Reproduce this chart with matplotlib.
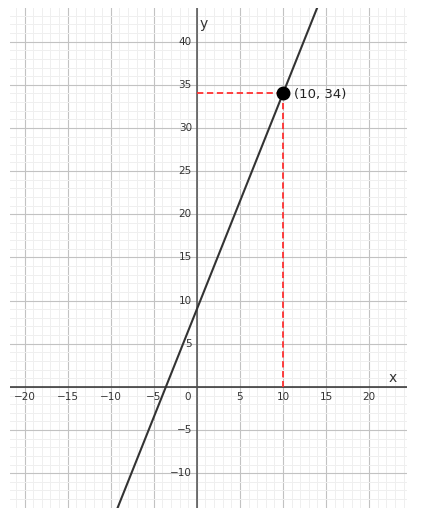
import matplotlib.pyplot as plt
import numpy as np

# line y = m*x + b, marked point and axis ticks
slope = 2.5
intercept = 9
point = (10, 34)
x_ticks = [-20, -15, -10, -5, 5, 10, 15, 20]
y_ticks = [-10, -5, 5, 10, 15, 20, 25, 30, 35, 40]

xmin, xmax = -21.7, 24.4
ymin, ymax = -14.0, 43.9

fig = plt.figure(figsize=(4.44, 5.28), dpi=100)
ax = fig.add_axes([10/444, (528-507.7)/528, (407-10)/444, (507.7-8)/528])
ax.set_xlim(xmin, xmax)
ax.set_ylim(ymin, ymax)
for s in ax.spines.values():
    s.set_visible(False)
ax.set_xticks([])
ax.set_yticks([])

# grid
for v in np.arange(-21, 25):
    c, lw = ('#c2c2c2', 0.8) if v % 5 == 0 else ('#efefef', 0.7)
    ax.axvline(v, color=c, lw=lw, zorder=0)
for v in np.arange(-14, 44):
    c, lw = ('#c2c2c2', 0.8) if v % 5 == 0 else ('#efefef', 0.7)
    ax.axhline(v, color=c, lw=lw, zorder=0)

ax.axhline(0, color='#303030', lw=1.1, zorder=1)
ax.axvline(0, color='#505050', lw=1.1, zorder=1)

tick_font = dict(fontsize=7.5, color='#333333', family='DejaVu Sans')
for t in x_ticks:
    ax.annotate(str(t).replace('-', '\u2212'), (t, 0), xytext=(0, -10), textcoords='offset pixels',
                ha='center', va='center', **tick_font)
ax.annotate('0', (0, 0), xytext=(-9, -10), textcoords='offset pixels', ha='center', va='center', **tick_font)
for t in y_ticks:
    ax.annotate(str(t).replace('-', '\u2212'), (0, t), xytext=(-5, 0), textcoords='offset pixels',
                ha='right', va='center', **tick_font)

ax.text(0.3, 42.1, 'y', fontsize=10, color='#333333', ha='left', va='center')
ax.text(22.7, 1.0, 'x', fontsize=10, color='#333333', ha='center', va='center')

# the line
xs = np.array([xmin, xmax])
ax.plot(xs, slope * xs + intercept, color='#333333', lw=1.5, zorder=3)

# dashed guides and point
px, py = point
ax.plot([0, px], [py, py], color='#ff3030', lw=1.3, ls=(0, (3.5, 2)), zorder=2)
ax.plot([px, px], [py, 0], color='#ff3030', lw=1.3, ls=(0, (3.5, 2)), zorder=2)
ax.plot(px, py, 'o', color='black', ms=9, zorder=4)
ax.annotate(f'({px}, {py})', (px, py), xytext=(11, -1), textcoords='offset pixels',
            ha='left', va='center', fontsize=9.5, color='#222222')

fig.savefig('out.png', dpi=100, facecolor='white')
